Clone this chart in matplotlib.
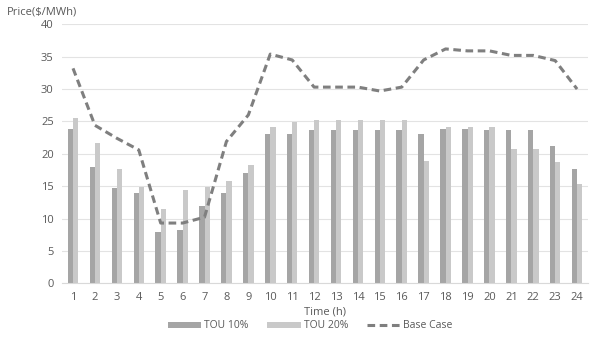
import numpy as np
import matplotlib.pyplot as plt

plt.rcParams['font.family'] = ['Open Sans', 'DejaVu Sans']

hours = list(range(1, 25))
tou10 = [23.8, 17.9, 14.7, 14.0, 7.9, 8.3, 12.0, 14.0, 17.0, 23.0, 23.0, 23.6,
         23.6, 23.6, 23.6, 23.6, 23.0, 23.8, 23.8, 23.6, 23.6, 23.6, 21.2, 17.65]
tou20 = [25.6, 21.7, 17.65, 14.9, 11.5, 14.4, 14.9, 15.8, 18.2, 24.2, 24.9, 25.2,
         25.2, 25.2, 25.2, 25.2, 18.9, 24.2, 24.2, 24.2, 20.8, 20.8, 18.7, 15.4]
base_case = [33.2, 24.4, 22.4, 20.6, 9.3, 9.3, 10.2, 21.9, 26.0, 35.4, 34.5, 30.3,
             30.3, 30.3, 29.7, 30.3, 34.5, 36.2, 35.9, 35.9, 35.2, 35.2, 34.4, 30.0]

text_col = '#595959'
fig = plt.figure(figsize=(5.91, 3.38), dpi=100)
ax = fig.add_axes([0.105, 0.162, 0.89, 0.766])

x = np.arange(len(hours))
w = 0.24
b1 = ax.bar(x - w / 2, tou10, w, color='#a5a5a5', label='TOU 10%', zorder=2)
b2 = ax.bar(x + w / 2, tou20, w, color='#c9c9c9', label='TOU 20%', zorder=2)
ln, = ax.plot(x, base_case, color='#7f7f7f', lw=2.2, ls=(0, (2.5, 1.5)), label='Base Case', zorder=3)

ax.set_xlim(-0.5, len(hours) - 0.5)
ax.set_ylim(0, 40)
ax.set_yticks(range(0, 41, 5))
ax.set_xticks(x)
ax.set_xticklabels([str(h) for h in hours])
ax.grid(axis='y', color='#e3e3e3', lw=0.8, zorder=0)
for s in ['top', 'right', 'left']:
    ax.spines[s].set_visible(False)
ax.spines['bottom'].set_color('#d9d9d9')
ax.tick_params(length=0, labelsize=8, labelcolor=text_col, pad=6)

ax.set_xlabel('Time (h)', fontsize=8, color=text_col, labelpad=3)
fig.text(0.012, 0.965, 'Price($/MWh)', fontsize=8, color=text_col, ha='left', va='center')

fig.legend(handles=[b1, b2, ln], loc='center', bbox_to_anchor=(0.525, 0.036), ncol=3,
           frameon=False, fontsize=7.5, labelcolor=text_col, handlelength=3.2,
           handleheight=0.5, columnspacing=1.8, handletextpad=0.3, borderpad=0,
           borderaxespad=0)

fig.savefig('out.png', dpi=100)
